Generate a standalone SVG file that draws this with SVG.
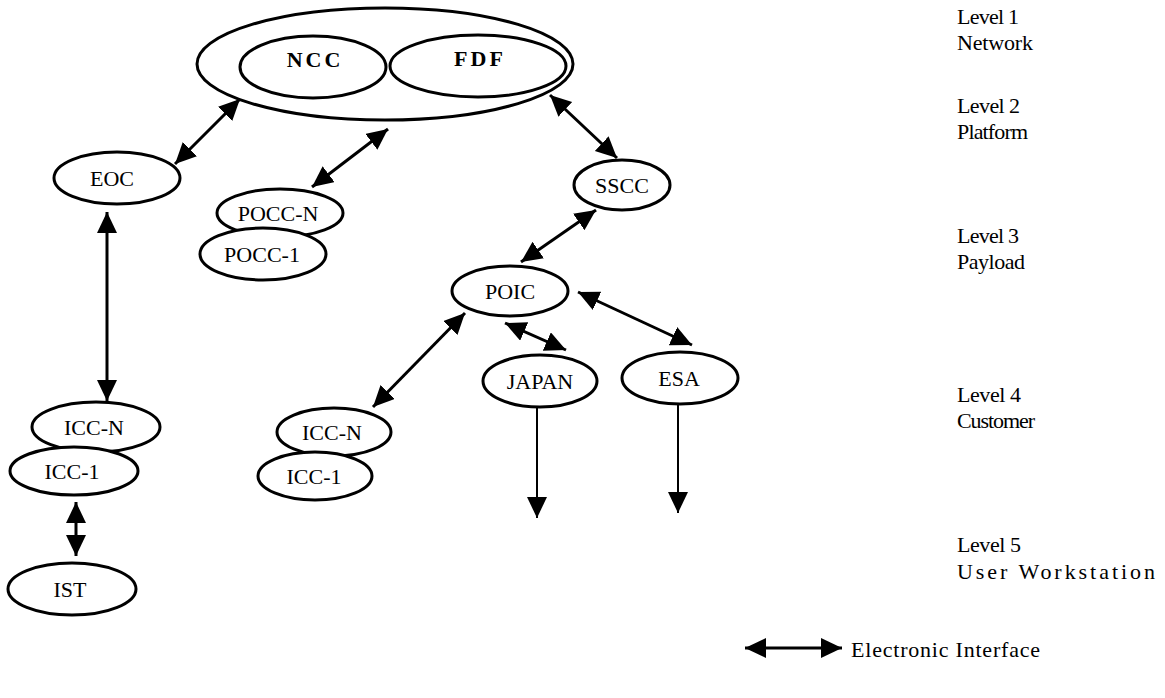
<svg xmlns="http://www.w3.org/2000/svg" width="1165" height="698" viewBox="0 0 1165 698">
<style>
.n{fill:#fff;stroke:#000;stroke-width:3}
.t{font-family:"Liberation Serif","Times New Roman",serif;font-size:22px;text-anchor:middle;fill:#000}
.b{font-weight:bold;letter-spacing:3px;font-size:22px}
.l{font-family:"Liberation Serif","Times New Roman",serif;font-size:22px;fill:#000}
.c{stroke:#000;stroke-width:3;fill:none;marker-start:url(#ah);marker-end:url(#ah)}
.s{stroke:#000;stroke-width:2;fill:none;marker-end:url(#ah)}
</style>
<defs>
<marker id="ah" markerUnits="userSpaceOnUse" markerWidth="24" markerHeight="22" refX="21" refY="10" orient="auto-start-reverse">
<path d="M0,0 L21,10 L0,20 Z" fill="#000"/>
</marker>
</defs>
<rect width="1165" height="698" fill="#fff"/>
<g id="network">
<ellipse class="n" cx="385" cy="64" rx="188" ry="56"/>
</g>
<g id="NCC"><ellipse class="n" cx="313" cy="67" rx="73" ry="31"/><text class="t b" x="315" y="67">NCC</text></g>
<g id="FDF"><ellipse class="n" cx="478" cy="66" rx="88" ry="31"/><text class="t b" x="480" y="66">FDF</text></g>
<g id="EOC"><ellipse class="n" cx="117" cy="178" rx="63" ry="26"/><text class="t" x="112" y="186">EOC</text></g>
<g id="POCC-N"><ellipse class="n" cx="280" cy="213" rx="63" ry="24"/><text class="t" x="278" y="221">POCC-N</text></g>
<g id="POCC-1"><ellipse class="n" cx="263" cy="254" rx="63" ry="26"/><text class="t" x="262" y="262">POCC-1</text></g>
<g id="SSCC"><ellipse class="n" cx="622" cy="185" rx="48" ry="25"/><text class="t" x="622" y="193">SSCC</text></g>
<g id="POIC"><ellipse class="n" cx="510" cy="291" rx="58" ry="25"/><text class="t" x="510" y="299">POIC</text></g>
<g id="JAPAN"><ellipse class="n" cx="540" cy="381" rx="57" ry="26"/><text class="t" x="540" y="389">JAPAN</text></g>
<g id="ESA"><ellipse class="n" cx="680" cy="378" rx="58" ry="26"/><text class="t" x="679" y="386">ESA</text></g>
<g id="ICC-N-right"><ellipse class="n" cx="334" cy="432" rx="57" ry="24"/><text class="t" x="332" y="440">ICC-N</text></g>
<g id="ICC-1-right"><ellipse class="n" cx="315" cy="476" rx="57" ry="24"/><text class="t" x="314" y="484">ICC-1</text></g>
<g id="ICC-N-left"><ellipse class="n" cx="96" cy="427" rx="64" ry="25"/><text class="t" x="94" y="435">ICC-N</text></g>
<g id="ICC-1-left"><ellipse class="n" cx="74" cy="471" rx="64" ry="24"/><text class="t" x="72" y="479">ICC-1</text></g>
<g id="IST"><ellipse class="n" cx="72" cy="589" rx="64" ry="26"/><text class="t" x="70" y="597">IST</text></g>
<g id="connectors">
<line class="c" x1="175" y1="164" x2="240" y2="99"/>
<line class="c" x1="312" y1="187" x2="388" y2="129"/>
<line class="c" x1="550" y1="95" x2="617" y2="158"/>
<line class="c" x1="596" y1="210" x2="521" y2="262"/>
<line class="c" x1="107" y1="212" x2="107" y2="401"/>
<line class="c" x1="76" y1="502" x2="76" y2="556"/>
<line class="c" x1="373" y1="407" x2="465" y2="313"/>
<line class="c" x1="505" y1="323" x2="566" y2="350"/>
<line class="c" x1="578" y1="292" x2="692" y2="345"/>
<line class="s" x1="537" y1="407" x2="537" y2="518"/>
<line class="s" x1="678" y1="404" x2="678" y2="513"/>
<line class="c" x1="745" y1="648" x2="842" y2="648"/>
</g>
<g id="levels">
<text class="l" x="957" y="24" textLength="62" lengthAdjust="spacing">Level 1</text>
<text class="l" x="957" y="50" textLength="76" lengthAdjust="spacing">Network</text>
<text class="l" x="957" y="113" textLength="63" lengthAdjust="spacing">Level 2</text>
<text class="l" x="957" y="139" textLength="71" lengthAdjust="spacing">Platform</text>
<text class="l" x="957" y="243" textLength="62" lengthAdjust="spacing">Level 3</text>
<text class="l" x="957" y="269" textLength="68" lengthAdjust="spacing">Payload</text>
<text class="l" x="957" y="402" textLength="64" lengthAdjust="spacing">Level 4</text>
<text class="l" x="957" y="428" textLength="78" lengthAdjust="spacing">Customer</text>
<text class="l" x="957" y="552" textLength="64" lengthAdjust="spacing">Level 5</text>
<text class="l" x="957" y="579" textLength="198" lengthAdjust="spacing">User Workstation</text>
<text class="l" x="851" y="657" textLength="189" lengthAdjust="spacing">Electronic Interface</text>
</g>
</svg>
